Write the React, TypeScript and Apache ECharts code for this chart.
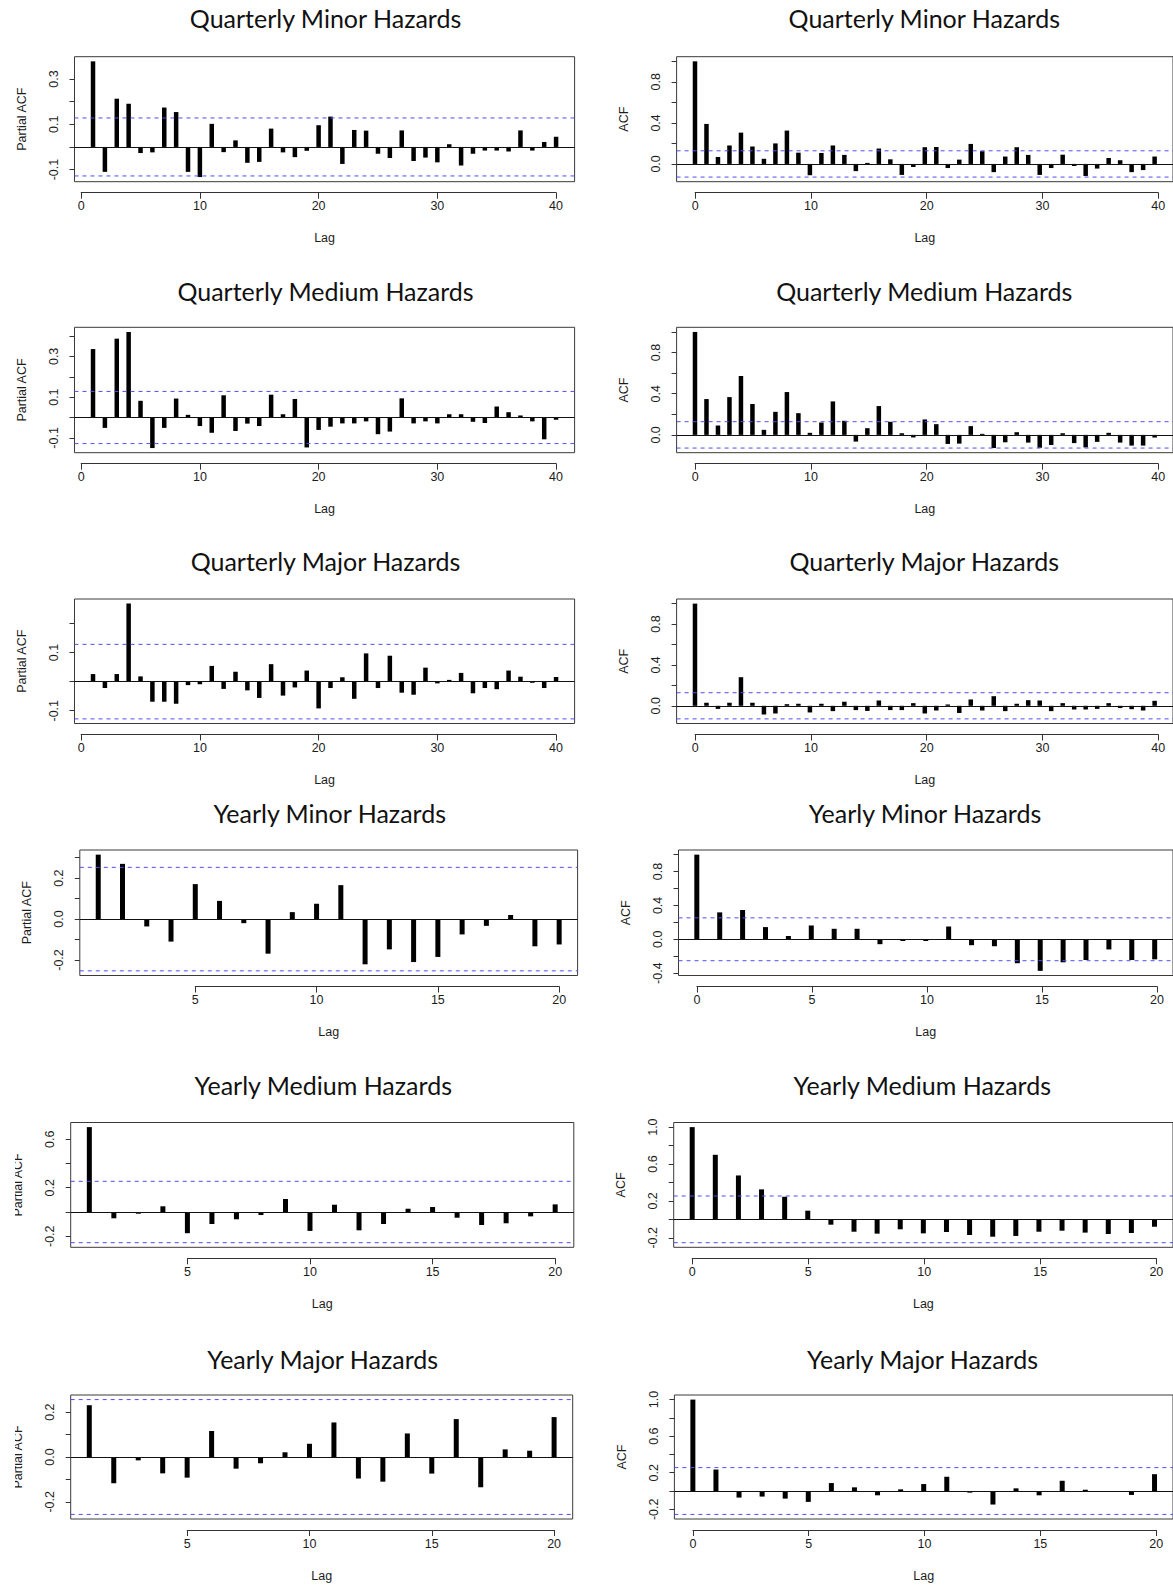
import React, { useEffect, useRef } from "react";
import * as echarts from "echarts";

// ---------- data ----------
const TITLES = [
  "Quarterly Minor Hazards",
  "Quarterly Medium Hazards",
  "Quarterly Major Hazards",
  "Yearly Minor Hazards",
  "Yearly Medium Hazards",
  "Yearly Major Hazards",
];

const Q_MINOR_PACF = [0.378, -0.11, 0.213, 0.191, -0.027, -0.024, 0.174, 0.154, -0.11, -0.133, 0.102, -0.023, 0.029, -0.07, -0.066, 0.081, -0.024, -0.045, -0.017, 0.096, 0.134, -0.075, 0.075, 0.072, -0.03, -0.049, 0.073, -0.062, -0.047, -0.068, 0.012, -0.082, -0.03, -0.016, -0.016, -0.02, 0.073, -0.016, 0.022, 0.045];
const Q_MINOR_ACF = [1.0, 0.39, 0.068, 0.18, 0.305, 0.17, 0.05, 0.2, 0.325, 0.11, -0.11, 0.107, 0.18, 0.088, -0.07, 0.01, 0.15, 0.045, -0.107, -0.03, 0.163, 0.165, -0.04, 0.042, 0.195, 0.124, -0.08, 0.072, 0.163, 0.088, -0.107, -0.04, 0.09, -0.02, -0.117, -0.045, 0.058, 0.036, -0.08, -0.06, 0.072];
const Q_MEDIUM_PACF = [0.336, -0.051, 0.387, 0.42, 0.082, -0.15, -0.051, 0.093, 0.013, -0.042, -0.075, 0.109, -0.066, -0.03, -0.042, 0.112, 0.016, 0.091, -0.147, -0.061, -0.045, -0.029, -0.029, -0.019, -0.082, -0.069, 0.094, -0.029, -0.019, -0.029, 0.016, 0.016, -0.021, -0.027, 0.054, 0.026, 0.01, -0.019, -0.107, -0.011];
const Q_MEDIUM_ACF = [1.0, 0.348, 0.091, 0.367, 0.572, 0.3, 0.049, 0.224, 0.416, 0.211, 0.02, 0.12, 0.325, 0.137, -0.065, 0.065, 0.28, 0.127, 0.016, -0.025, 0.15, 0.104, -0.088, -0.085, 0.085, 0.01, -0.128, -0.072, 0.026, -0.075, -0.125, -0.098, 0.016, -0.08, -0.122, -0.068, 0.02, -0.075, -0.104, -0.104, -0.026];
const Q_MAJOR_PACF = [0.026, -0.022, 0.026, 0.268, 0.018, -0.069, -0.069, -0.076, -0.012, -0.009, 0.054, -0.025, 0.034, -0.03, -0.056, 0.06, -0.048, -0.02, 0.038, -0.092, -0.022, 0.015, -0.059, 0.097, -0.022, 0.089, -0.038, -0.045, 0.048, -0.006, 0.006, 0.03, -0.04, -0.022, -0.026, 0.038, 0.017, -0.004, -0.022, 0.016];
const Q_MAJOR_ACF = [1.0, 0.03, -0.03, 0.03, 0.28, 0.03, -0.085, -0.075, 0.016, 0.02, -0.065, 0.02, -0.052, 0.04, -0.042, -0.05, 0.052, -0.042, -0.042, 0.026, -0.075, -0.046, 0.013, -0.07, 0.062, -0.046, 0.094, -0.052, 0.02, 0.055, 0.052, -0.052, 0.026, -0.036, -0.036, -0.03, 0.026, -0.022, -0.033, -0.046, 0.049];
const Y_MINOR_PACF = [0.315, 0.27, -0.036, -0.11, 0.171, 0.089, -0.02, -0.169, 0.034, 0.075, 0.166, -0.221, -0.148, -0.21, -0.185, -0.075, -0.033, 0.02, -0.133, -0.124];
const Y_MINOR_ACF = [1.0, 0.318, 0.346, 0.144, 0.039, 0.163, 0.124, 0.124, -0.058, -0.02, -0.02, 0.151, -0.07, -0.082, -0.283, -0.373, -0.272, -0.245, -0.12, -0.245, -0.237];
const Y_MEDIUM_PACF = [0.7, -0.052, -0.014, 0.047, -0.175, -0.099, -0.06, -0.025, 0.107, -0.156, 0.06, -0.151, -0.099, 0.027, 0.041, -0.047, -0.107, -0.093, -0.036, 0.063];
const Y_MEDIUM_ACF = [1.0, 0.7, 0.476, 0.325, 0.245, 0.094, -0.058, -0.134, -0.155, -0.108, -0.152, -0.137, -0.17, -0.188, -0.18, -0.134, -0.123, -0.144, -0.159, -0.148, -0.08];
const Y_MAJOR_PACF = [0.231, -0.117, -0.015, -0.073, -0.092, 0.116, -0.052, -0.028, 0.021, 0.059, 0.154, -0.096, -0.11, 0.105, -0.074, 0.169, -0.135, 0.034, 0.028, 0.178];
const Y_MAJOR_ACF = [1.0, 0.235, -0.072, -0.061, -0.083, -0.119, 0.087, 0.04, -0.047, 0.018, 0.076, 0.156, -0.018, -0.148, 0.029, -0.047, 0.112, 0.014, -0.01, -0.043, 0.184];

const PACF_SERIES = [Q_MINOR_PACF, Q_MEDIUM_PACF, Q_MAJOR_PACF, Y_MINOR_PACF, Y_MEDIUM_PACF, Y_MAJOR_PACF];
const ACF_SERIES = [Q_MINOR_ACF, Q_MEDIUM_ACF, Q_MAJOR_ACF, Y_MINOR_ACF, Y_MEDIUM_ACF, Y_MAJOR_ACF];

// 95% confidence bounds (blue dashed lines), per row
const CONF_LIMITS = [0.128, 0.128, 0.128, 0.253, 0.253, 0.256];

// tick labels
const PACF_Y_TICKS = [
  { min: -0.1, max: 0.3, step: 0.1, labels: [-0.1, 0.1, 0.3] },
  { min: -0.1, max: 0.4, step: 0.1, labels: [-0.1, 0.1, 0.3] },
  { min: -0.1, max: 0.2, step: 0.1, labels: [-0.1, 0.1] },
  { min: -0.2, max: 0.3, step: 0.1, labels: [-0.2, 0.0, 0.2] },
  { min: -0.2, max: 0.6, step: 0.2, labels: [-0.2, 0.2, 0.6] },
  { min: -0.2, max: 0.2, step: 0.1, labels: [-0.2, 0.0, 0.2] },
];
const ACF_Y_TICKS = [
  { min: 0, max: 1.0, step: 0.2, labels: [0.0, 0.4, 0.8] },
  { min: 0, max: 1.0, step: 0.2, labels: [0.0, 0.4, 0.8] },
  { min: 0, max: 1.0, step: 0.2, labels: [0.0, 0.4, 0.8] },
  { min: -0.4, max: 1.0, step: 0.2, labels: [-0.4, 0.0, 0.4, 0.8] },
  { min: -0.2, max: 1.0, step: 0.2, labels: [-0.2, 0.2, 0.6, 1.0] },
  { min: -0.2, max: 1.0, step: 0.2, labels: [-0.2, 0.2, 0.6, 1.0] },
];
const Q_X_TICKS = { min: 0, max: 40, step: 10 };
const Y_PACF_X_TICKS = { min: 5, max: 20, step: 5 };
const Y_ACF_X_TICKS = { min: 0, max: 20, step: 5 };

// ---------- layout (pixels) ----------
const ROW_TB = [
  [56.7, 181.7],
  [327.3, 452.7],
  [599, 723.5],
  [850, 975.5],
  [1122.5, 1247.3],
  [1395, 1519],
];
const LEFT_LR = [
  [74.5, 574.6],
  [74.5, 574.6],
  [74.5, 574.6],
  [79.8, 577.6],
  [70.7, 573.8],
  [70.7, 572.7],
];
const RIGHT_LR = [
  [676.6, 1176.7],
  [676.6, 1176.7],
  [676.6, 1176.7],
  [678.5, 1175.4],
  [673.7, 1174.9],
  [674.4, 1174.7],
];
const TITLE_Y = [18, 290.5, 561, 813, 1085, 1359];

const AXIS_FONT = "'Liberation Sans', Arial, Helvetica, sans-serif";
const TITLE_FONT = "Lato, 'Open Sans', sans-serif";
const TEXT_COLOR = "#1c1c1c";
const BLUE = "#4f4ff5";

function buildOption() {
  const grid: any[] = [];
  const xAxis: any[] = [];
  const yAxis: any[] = [];
  const series: any[] = [];
  const graphic: any[] = [];

  for (let row = 0; row < 6; row++) {
    for (let col = 0; col < 2; col++) {
      const isPacf = col === 0;
      const values = isPacf ? PACF_SERIES[row] : ACF_SERIES[row];
      const lags = values.map((_, i) => (isPacf ? i + 1 : i));
      const ci = CONF_LIMITS[row];
      const [l, r] = isPacf ? LEFT_LR[row] : RIGHT_LR[row];
      const [t, b] = ROW_TB[row];
      const W = r - l;
      const H = b - t;
      const yearly = row >= 3;
      const xt = !yearly ? Q_X_TICKS : isPacf ? Y_PACF_X_TICKS : Y_ACF_X_TICKS;
      const yt = isPacf ? PACF_Y_TICKS[row] : ACF_Y_TICKS[row];

      // R style range with 4% extension
      const lagLo = Math.min(...lags);
      const lagHi = Math.max(...lags);
      const xmin = lagLo - (lagHi - lagLo) * 0.04;
      const xmax = lagHi + (lagHi - lagLo) * 0.04;
      const vLo = Math.min(...values, -ci);
      const vHi = Math.max(...values, ci);
      const ymin = vLo - (vHi - vLo) * 0.04;
      const ymax = vHi + (vHi - vLo) * 0.04;

      // main plotting box
      const g = grid.length;
      grid.push({
        left: l,
        top: t,
        width: W,
        height: H,
        show: true,
        borderColor: "#3a3a3a",
        borderWidth: 1,
        backgroundColor: "transparent",
      });
      const xi = xAxis.length;
      xAxis.push({
        gridIndex: g,
        type: "value",
        min: xmin,
        max: xmax,
        axisLine: { show: false },
        axisTick: { show: false },
        axisLabel: { show: false },
        splitLine: { show: false },
        name: "Lag",
        nameLocation: "middle",
        nameGap: 50,
        nameTextStyle: { fontFamily: AXIS_FONT, fontSize: 12.5, color: TEXT_COLOR },
      });
      const yi = yAxis.length;
      yAxis.push({
        gridIndex: g,
        type: "value",
        min: ymin,
        max: ymax,
        axisLine: { show: false },
        axisTick: { show: false },
        axisLabel: { show: false },
        splitLine: { show: false },
        name: isPacf ? "Partial ACF" : "ACF",
        nameLocation: "middle",
        nameGap: 46,
        nameTextStyle: { fontFamily: AXIS_FONT, fontSize: 12.5, color: TEXT_COLOR },
      });
      series.push({
        type: "bar",
        xAxisIndex: xi,
        yAxisIndex: yi,
        data: lags.map((lag, i) => [lag, values[i]]),
        barWidth: yearly ? 5 : 4.5,
        itemStyle: { color: "#000" },
        silent: true,
        markLine: {
          silent: true,
          symbol: ["none", "none"],
          label: { show: false },
          lineStyle: { color: "#111", type: "solid", width: 1 },
          data: [{ yAxis: 0 }],
        },
      });
      // confidence bounds
      [ci, -ci].forEach((c) => {
        series.push({
          type: "line",
          xAxisIndex: xi,
          yAxisIndex: yi,
          data: [
            [xmin, c],
            [xmax, c],
          ],
          symbol: "none",
          silent: true,
          lineStyle: { color: BLUE, type: [4, 4], width: 1 },
          z: 3,
        });
      });

      // x axis (drawn below the box, spanning first to last tick)
      const gx = grid.length;
      grid.push({
        left: l + ((xt.min - xmin) / (xmax - xmin)) * W,
        width: ((xt.max - xt.min) / (xmax - xmin)) * W,
        top: b + 10,
        height: 1,
      });
      xAxis.push({
        gridIndex: gx,
        type: "value",
        position: "bottom",
        min: xt.min,
        max: xt.max,
        interval: xt.step,
        axisLine: { show: true, lineStyle: { color: "#333", width: 1 } },
        axisTick: { show: true, length: 6, lineStyle: { color: "#333", width: 1 } },
        axisLabel: {
          show: true,
          margin: 7,
          fontFamily: AXIS_FONT,
          fontSize: 12.5,
          color: TEXT_COLOR,
          showMinLabel: true,
          showMaxLabel: true,
        },
        splitLine: { show: false },
      });
      yAxis.push({ gridIndex: gx, type: "value", show: false, min: 0, max: 1 });

      // y axis (on the left edge of the box, spanning first to last tick)
      const gy = grid.length;
      grid.push({
        left: l,
        width: 1,
        top: t + ((ymax - yt.max) / (ymax - ymin)) * H,
        height: ((yt.max - yt.min) / (ymax - ymin)) * H,
      });
      xAxis.push({ gridIndex: gy, type: "value", show: false, min: 0, max: 1 });
      const labs = yt.labels;
      yAxis.push({
        gridIndex: gy,
        type: "value",
        position: "left",
        min: yt.min,
        max: yt.max,
        interval: yt.step,
        axisLine: { show: false },
        axisTick: { show: true, length: 5, lineStyle: { color: "#333", width: 1 } },
        axisLabel: {
          show: true,
          rotate: 90,
          margin: 14,
          fontFamily: AXIS_FONT,
          fontSize: 12.5,
          color: TEXT_COLOR,
          showMinLabel: true,
          showMaxLabel: true,
          formatter: (v: number) => {
            const hit = labs.some((x) => Math.abs(x - v) < 1e-6);
            if (!hit) return "";
            if (Math.abs(v) < 1e-9) return "0.0";
            return v.toFixed(1);
          },
        },
        splitLine: { show: false },
      });

      // title
      graphic.push({
        type: "text",
        x: (l + Math.min(r, 1176)) / 2 + (isPacf ? 1 : -2),
        y: TITLE_Y[row],
        style: {
          text: TITLES[row],
          font: `25px ${TITLE_FONT}`,
          fill: "#111",
          textAlign: "center",
          textVerticalAlign: "middle",
        },
        z: 10,
      });

      // the cropped y-label of the two lowest left panels
      if (isPacf && row >= 4) {
        graphic.push({
          type: "rect",
          shape: { x: 0, y: t - 5, width: 15, height: H + 10 },
          style: { fill: "#fff" },
          z: 100,
        });
      }
    }
  }

  return {
    animation: false,
    backgroundColor: "#fff",
    grid,
    xAxis,
    yAxis,
    series,
    graphic,
  };
}

export default function App() {
  const ref = useRef<HTMLDivElement>(null);
  useEffect(() => {
    document.body.style.margin = "0";
    const chart = echarts.init(ref.current!, null, { renderer: "svg" });
    chart.setOption(buildOption() as any);
    return () => chart.dispose();
  }, []);
  return (
    <div
      ref={ref}
      style={{ position: "absolute", left: 0, top: 0, width: 1173, height: 1586, background: "#fff" }}
    />
  );
}
